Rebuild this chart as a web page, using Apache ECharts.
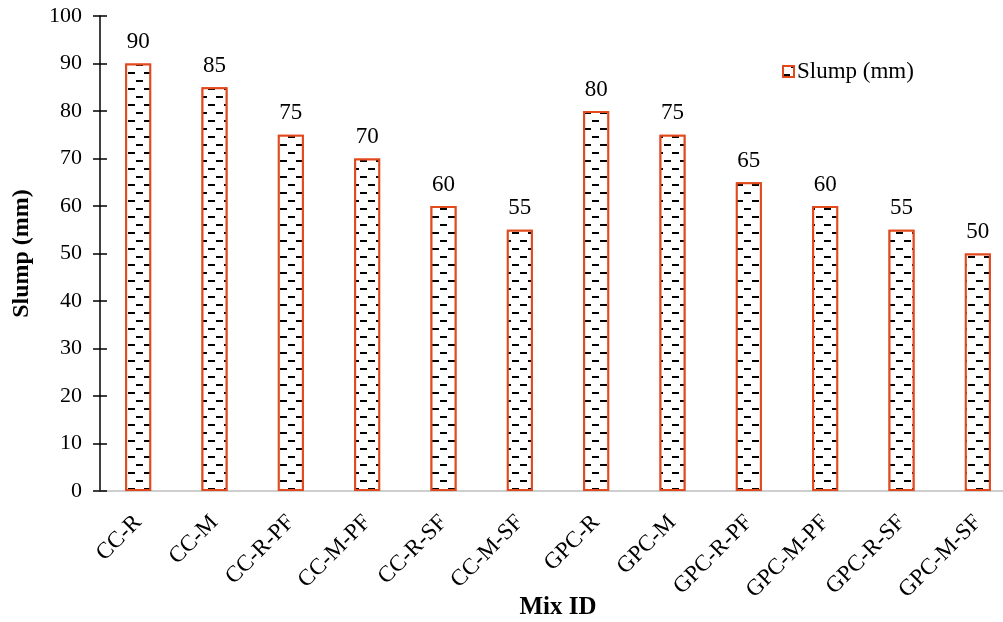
<!DOCTYPE html>
<html>
<head>
<meta charset="utf-8">
<script src="https://cdn.jsdelivr.net/npm/echarts@6/dist/echarts.min.js"></script>
<style>
  html, body { margin: 0; padding: 0; background: #fff; overflow: hidden; }
  #chart { width: 1003px; height: 622px; }
</style>
</head>
<body>
<div id="chart"></div>
<script>
// Mix designs and their measured slump values
const mixIds = ['CC-R', 'CC-M', 'CC-R-PF', 'CC-M-PF', 'CC-R-SF', 'CC-M-SF',
                'GPC-R', 'GPC-M', 'GPC-R-PF', 'GPC-M-PF', 'GPC-R-SF', 'GPC-M-SF'];
const slumpMm = [90, 85, 75, 70, 60, 55, 80, 75, 65, 60, 55, 50];
const yTicks = { min: 0, max: 100, interval: 10 };

const FONT = 'Liberation Serif';
const chart = echarts.init(document.getElementById('chart'), null, { renderer: 'canvas' });

// Brick-style dashed hatch used inside each bar
const hatch = {
  symbol: 'rect',
  symbolSize: 1,
  color: '#000',
  backgroundColor: '#fff',
  dashArrayX: [[7, 9], [0, 8, 7, 1]],
  dashArrayY: [2, 6],
  rotation: 0
};

chart.setOption({
  backgroundColor: '#fff',
  animation: false,
  textStyle: { fontFamily: FONT, color: '#000' },
  legend: {
    data: ['Slump (mm)'],
    left: 777,
    top: 55,
    icon: 'rect',
    itemWidth: 11,
    itemHeight: 11,
    itemGap: 4,
    textStyle: { fontFamily: FONT, fontSize: 23, color: '#000', padding: [0, 0, 0, -2] }
  },
  grid: {
    left: 100, top: 16, width: 916, height: 475,
    containLabel: false,
    outerBoundsMode: 'none'
  },
  xAxis: {
    type: 'category',
    data: mixIds,
    name: 'Mix ID',
    nameLocation: 'middle',
    nameGap: 104,
    nameMoveOverlap: false,
    nameTextStyle: { fontFamily: FONT, fontSize: 25, fontWeight: 'bold', color: '#000' },
    axisLine: { lineStyle: { color: '#bfbfbf', width: 1.5 } },
    axisTick: { show: false },
    axisLabel: { rotate: 45, fontFamily: FONT, fontSize: 23, color: '#000', margin: 28, interval: 0 }
  },
  yAxis: [
    {
      type: 'value',
      min: yTicks.min,
      max: yTicks.max,
      interval: yTicks.interval,
      name: 'Slump (mm)',
      nameLocation: 'middle',
      nameGap: 66,
      nameMoveOverlap: false,
      nameTextStyle: { fontFamily: FONT, fontSize: 24, fontWeight: 'bold', color: '#000' },
      axisLine: { show: true, lineStyle: { color: '#000', width: 1.5 } },
      axisTick: { show: true, length: 7, lineStyle: { color: '#000', width: 1.5 } },
      axisLabel: { fontFamily: FONT, fontSize: 22, color: '#000', margin: 18 },
      splitLine: { show: false }
    },
    {
      // inner half of the crossing tick marks
      type: 'value',
      position: 'left',
      min: yTicks.min,
      max: yTicks.max,
      interval: yTicks.interval,
      axisLine: { show: false },
      axisTick: { show: true, inside: true, length: 7, lineStyle: { color: '#000', width: 1.5 } },
      axisLabel: { show: false },
      splitLine: { show: false }
    }
  ],
  series: [{
    name: 'Slump (mm)',
    type: 'bar',
    data: slumpMm,
    barWidth: 26,
    itemStyle: {
      color: '#fff',
      borderColor: '#e2491d',
      borderWidth: 2,
      decal: hatch
    },
    label: {
      show: true,
      position: 'top',
      distance: 10,
      fontFamily: FONT,
      fontSize: 23,
      color: '#000'
    }
  }]
});
</script>
</body>
</html>
